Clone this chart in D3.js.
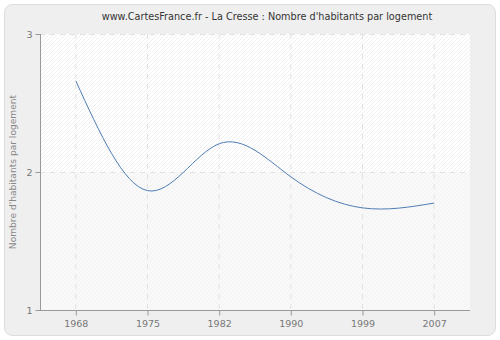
<!DOCTYPE html>
<html><head><meta charset="utf-8">
<script src="https://cdn.jsdelivr.net/npm/d3@7"></script>
<style>body{margin:0;background:#fff}svg{display:block}</style>
</head><body>
<script>
const years = ["1968","1975","1982","1990","1999","2007"];
const values = [2.66, 1.865, 2.205, 1.965, 1.74, 1.775];
const yTicks = [1, 2, 3];
const title = "www.CartesFrance.fr - La Cresse : Nombre d'habitants par logement";
const yTitle = "Nombre d'habitants par logement";

const W = 500, H = 340;
const m = {l: 40, r: 30, t: 34, b: 30};
const svg = d3.select("body").append("svg").attr("width", W).attr("height", H);
const defs = svg.append("defs");
function hatch(id, bg, fg){
  const p = defs.append("pattern").attr("id", id).attr("patternUnits","userSpaceOnUse")
    .attr("width", 4).attr("height", 4);
  p.append("rect").attr("width",4).attr("height",4).attr("fill",bg);
  p.append("path").attr("d","M-1,1 l2,-2 M0,4 l4,-4 M3,5 l2,-2").attr("stroke",fg).attr("stroke-width",0.8);
}
hatch("h1", "#ffffff", "#ececec");
hatch("h2", "#f9f9f9", "#f1f1f1");

svg.append("rect").attr("x",4.5).attr("y",4.5).attr("width",W-9).attr("height",H-9)
  .attr("rx",8).attr("fill","#efefef").attr("stroke","#dcdcdc");

const x = d3.scalePoint().domain(years).range([m.l, W - m.r]).padding(0.5);
const y = d3.scaleLinear().domain([1, 3]).range([H - m.b, m.t]);

const g = svg.append("g");
g.append("rect").attr("x", m.l).attr("y", y(3)).attr("width", W-m.r-m.l).attr("height", y(2)-y(3)).attr("fill","url(#h1)");
g.append("rect").attr("x", m.l).attr("y", y(2)).attr("width", W-m.r-m.l).attr("height", y(1)-y(2)).attr("fill","url(#h2)");

// grid
g.selectAll(".vg").data(years).enter().append("line")
  .attr("x1", d=>x(d)).attr("x2", d=>x(d)).attr("y1", y(3)).attr("y2", y(1))
  .attr("stroke","#e2e2e2").attr("stroke-dasharray","5,5");
g.selectAll(".hg").data(yTicks.slice(1)).enter().append("line")
  .attr("x1", m.l).attr("x2", W-m.r).attr("y1", d=>y(d)+0.5).attr("y2", d=>y(d)+0.5)
  .attr("stroke","#e2e2e2").attr("stroke-dasharray","5,5");

// axes
const xa = svg.append("g").attr("transform", `translate(0,${H-m.b+0.5})`)
  .call(d3.axisBottom(x).tickSize(5).tickPadding(5));
const ya = svg.append("g").attr("transform", `translate(${m.l+0.5},0)`)
  .call(d3.axisLeft(y).tickValues(yTicks).tickFormat(d3.format("d")).tickSize(5).tickPadding(3));
[xa, ya].forEach(a => {
  a.select(".domain").attr("stroke","#999");
  a.selectAll(".tick line").attr("stroke","#999");
  a.selectAll("text").attr("fill","#777").attr("font-family","DejaVu Sans, sans-serif").attr("font-size",9.5);
});
xa.select(".domain").attr("d", `M${m.l},0H${W-m.r}`);
ya.select(".domain").attr("d", `M0,${H-m.b}V${m.t}`);

// line
const line = d3.line().x((d,i)=>x(years[i])).y(d=>y(d)).curve(d3.curveNatural);
svg.append("path").datum(values).attr("d", line).attr("fill","none")
  .attr("stroke","#4f7db3").attr("stroke-width",1);

svg.append("text").attr("x", 267).attr("y", 20).attr("text-anchor","middle")
  .attr("font-family","DejaVu Sans, sans-serif").attr("font-size",9.7).attr("fill","#333").text(title);
svg.append("text").attr("transform", `translate(16,${(m.t+H-m.b)/2}) rotate(-90)`).attr("text-anchor","middle")
  .attr("font-family","DejaVu Sans, sans-serif").attr("font-size",9.1).attr("fill","#888").text(yTitle);
</script>
</body></html>
